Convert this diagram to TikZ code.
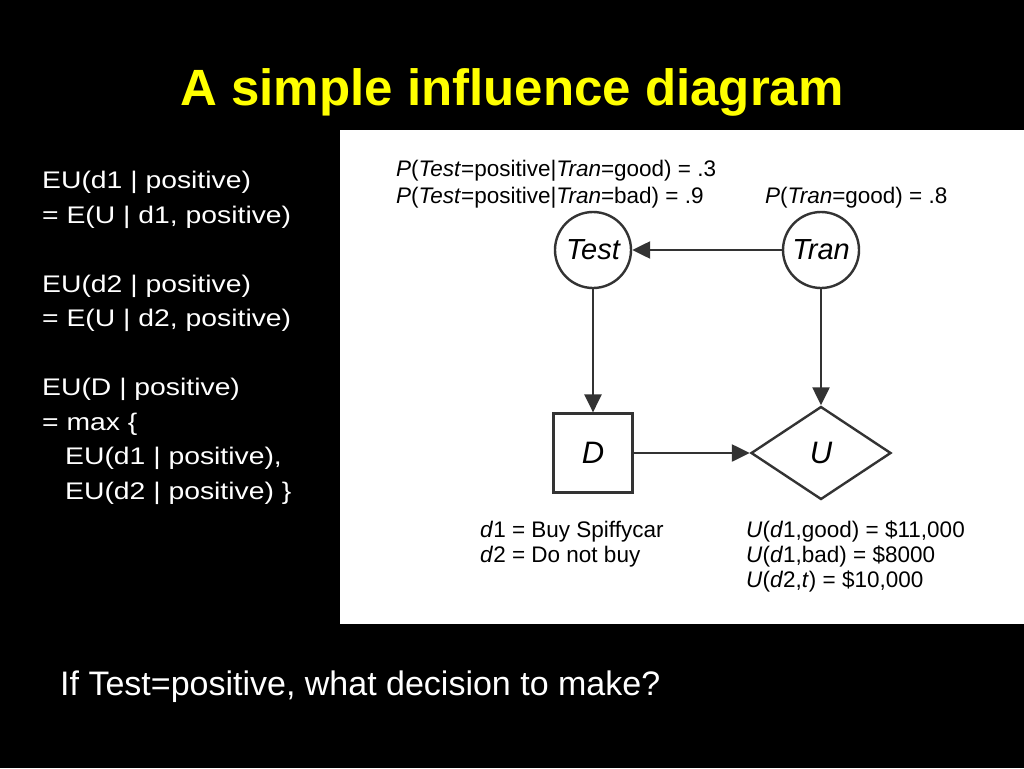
\documentclass[tikz,border=0pt]{standalone}
\usepackage{fontspec}
\setmainfont{Liberation Sans}
\newfontfamily\widefont[FakeStretch=1.18]{Liberation Sans}
\usepackage{tikz}
\usetikzlibrary{positioning}
\usetikzlibrary{arrows.meta}
\usetikzlibrary{shapes.geometric}
\definecolor{inkgray}{HTML}{333333}
\definecolor{titleyellow}{HTML}{FFFF00}
\tikzset{chance/.style={ % Sets the properties for circle nodes
			circle,
			draw=inkgray,
			line width=2.4pt,
			minimum size=76pt,
			inner sep=0pt,
			font=\fontsize{29}{32}\selectfont\itshape},
		decision/.style={
			rectangle,
			draw=inkgray,
			line width=2.2pt,
			minimum size=79pt,
			inner sep=0pt,
			font=\fontsize{31}{34}\selectfont\itshape},
		utility/.style={
			diamond,
			draw=inkgray,
			line width=2.4pt,
			minimum width=140pt,
			minimum height=93pt,
			inner sep=0pt,
			font=\fontsize{31}{34}\selectfont\itshape},
		link/.style={
			draw=inkgray,
			line width=2.4pt,
			-{Triangle[length=18pt,width=17pt]}},
		paneltext/.style={
			anchor=base west,
			inner sep=0pt,
			text=black,
			font=\fontsize{22.5}{25}\selectfont}}

\begin{document}
\begin{tikzpicture}[x=1pt,y=-1pt]
			\fill[black] (0,0) rectangle (1024,768);
			\useasboundingbox (0,0) rectangle (1024,768);
			\fill[white] (340,130) rectangle (1024,624);
			
			\node[anchor=base, text=titleyellow, font=\fontsize{51}{60}\selectfont\bfseries] (title) at (512,105) {A simple influence diagram};
			
			% left column, anchored on its last line
			\node[anchor=base west, inner sep=0pt, text=white, align=left, font=\fontsize{24}{34.5}\widefont] (eu) at (42,499)
				{EU(d1 | positive)\\
				= E(U | d1, positive)\\[34.5pt]
				EU(d2 | positive)\\
				= E(U | d2, positive)\\[34.5pt]
				EU(D | positive)\\
				= max \{\\
				\hspace*{23pt}EU(d1 | positive),\\
				\hspace*{23pt}EU(d2 | positive) \}};
			
			\node[anchor=base west, inner sep=0pt, text=white, font=\fontsize{34}{40}\selectfont] (question) at (60,695) {If Test=positive, what decision to make?};
			
			\node[chance] (Test) at (593,250) {Test};
			\node[chance] (Tran) at (821,250) {Tran};
			\node[decision] (D) at (593,453) {D};
			\node[utility] (U) at (821,453) {U};
			
			\draw[link] (Tran) -- (Test);
			\draw[link] (Test) -- (D);
			\draw[link] (Tran) -- (U);
			\draw[link] (D) -- (U);
			
			\node[paneltext] (ptgood) at (396,176) {\textit{P}(\textit{Test}=positive|\textit{Tran}=good) = .3};
			\node[paneltext] (ptbad) at (396,203) {\textit{P}(\textit{Test}=positive|\textit{Tran}=bad) = .9};
			\node[paneltext] (pgood) at (765,203) {\textit{P}(\textit{Tran}=good) = .8};
			\node[paneltext] (dbuy) at (480,537) {\textit{d}1 = Buy Spiffycar};
			\node[paneltext] (dnot) at (480,562) {\textit{d}2 = Do not buy};
			\node[paneltext] (ugood) at (746,537) {\textit{U}(\textit{d}1,good) = \$11,000};
			\node[paneltext] (ubad) at (746,562) {\textit{U}(\textit{d}1,bad) = \$8000};
			\node[paneltext] (unot) at (746,587) {\textit{U}(\textit{d}2,\textit{t}) = \$10,000};
		\end{tikzpicture}
\end{document}
